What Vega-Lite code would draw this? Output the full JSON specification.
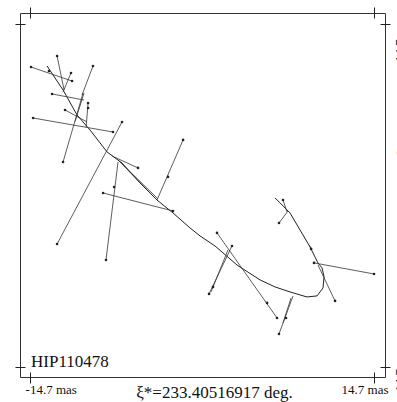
{
  "$schema": "https://vega.github.io/schema/vega-lite/v6.json",
  "width": 365,
  "height": 364,
  "autosize": {"type": "none"},
  "padding": {"left": 20, "top": 13, "right": 12, "bottom": 25},
  "background": "white",
  "config": {"view": {"stroke": "#333", "strokeWidth": 1}},
  "datasets": {
    "curve": [
      {"i": 1, "x": -13.25, "y": 11.10},
      {"i": 2, "x": -11.88, "y": 9.04},
      {"i": 3, "x": -10.68, "y": 6.89},
      {"i": 4, "x": -9.57, "y": 5.61},
      {"i": 5, "x": -8.12, "y": 3.73},
      {"i": 6, "x": -6.84, "y": 2.78},
      {"i": 7, "x": -5.30, "y": 1.07},
      {"i": 8, "x": -3.85, "y": -0.39},
      {"i": 9, "x": -2.48, "y": -1.50},
      {"i": 10, "x": -1.03, "y": -2.78},
      {"i": 11, "x": -0.17, "y": -3.47},
      {"i": 12, "x": 1.11, "y": -4.33},
      {"i": 13, "x": 2.99, "y": -5.96},
      {"i": 14, "x": 4.96, "y": -7.24},
      {"i": 15, "x": 6.24, "y": -7.84},
      {"i": 16, "x": 7.52, "y": -8.27},
      {"i": 17, "x": 8.97, "y": -8.70},
      {"i": 18, "x": 9.83, "y": -8.61},
      {"i": 19, "x": 10.34, "y": -7.93},
      {"i": 20, "x": 10.43, "y": -6.98},
      {"i": 21, "x": 10.26, "y": -6.21},
      {"i": 22, "x": 9.91, "y": -5.78},
      {"i": 23, "x": 9.23, "y": -4.41},
      {"i": 24, "x": 8.38, "y": -2.96},
      {"i": 25, "x": 7.52, "y": -1.50},
      {"i": 26, "x": 6.67, "y": -0.64},
      {"i": 27, "x": 6.24, "y": -0.21}
    ],
    "segs": [
      {"x": -14.62, "y": 11.01, "x2": -11.11, "y2": 9.81},
      {"x": -12.39, "y": 11.95, "x2": -11.79, "y2": 9.04},
      {"x": -11.20, "y": 10.50, "x2": -11.88, "y2": 8.87},
      {"x": -9.32, "y": 11.10, "x2": -10.26, "y2": 8.61},
      {"x": -12.82, "y": 8.70, "x2": -10.09, "y2": 8.18},
      {"x": -11.71, "y": 7.33, "x2": -9.83, "y2": 6.30},
      {"x": -9.74, "y": 7.93, "x2": -9.91, "y2": 5.87},
      {"x": -14.44, "y": 6.64, "x2": -7.61, "y2": 5.44},
      {"x": -11.88, "y": 2.87, "x2": -10.17, "y2": 8.78},
      {"x": -10.85, "y": 6.34, "x2": -10.09, "y2": 8.78},
      {"x": -6.84, "y": 6.30, "x2": -12.39, "y2": -4.16},
      {"x": -1.62, "y": 4.76, "x2": -3.85, "y2": -0.39},
      {"x": -7.69, "y": 3.38, "x2": -5.47, "y2": 2.36},
      {"x": -7.01, "y": 2.87, "x2": -3.85, "y2": -0.39},
      {"x": -7.18, "y": 3.04, "x2": -3.76, "y2": -0.30},
      {"x": -7.18, "y": 2.87, "x2": -8.21, "y2": -5.53},
      {"x": -8.46, "y": 0.21, "x2": -2.48, "y2": -1.33},
      {"x": 1.28, "y": -3.21, "x2": 6.41, "y2": -10.50},
      {"x": 2.56, "y": -4.33, "x2": 0.60, "y2": -8.44},
      {"x": 2.22, "y": -4.67, "x2": 0.77, "y2": -8.27},
      {"x": 7.78, "y": -8.61, "x2": 6.58, "y2": -11.87},
      {"x": 7.61, "y": -8.78, "x2": 6.92, "y2": -10.93},
      {"x": 6.58, "y": -2.36, "x2": 7.35, "y2": -1.33},
      {"x": 6.92, "y": -0.39, "x2": 7.26, "y2": -1.41},
      {"x": 9.15, "y": -4.24, "x2": 9.40, "y2": -4.67},
      {"x": 9.57, "y": -5.78, "x2": 14.70, "y2": -6.73},
      {"x": 9.91, "y": -5.96, "x2": 11.37, "y2": -9.04}
    ],
    "dots": [
      {"x": -14.62, "y": 11.01}, {"x": -11.11, "y": 9.81}, {"x": -12.39, "y": 11.95},
      {"x": -11.20, "y": 10.50}, {"x": -9.32, "y": 11.10}, {"x": -12.82, "y": 8.70},
      {"x": -11.71, "y": 7.33}, {"x": -9.74, "y": 7.93}, {"x": -14.44, "y": 6.64},
      {"x": -7.61, "y": 5.44}, {"x": -11.88, "y": 2.87}, {"x": -6.84, "y": 6.30},
      {"x": -12.39, "y": -4.16}, {"x": -1.62, "y": 4.76}, {"x": -2.91, "y": 1.59},
      {"x": -5.47, "y": 2.36}, {"x": -8.21, "y": -5.53}, {"x": -7.52, "y": 0.73},
      {"x": -8.46, "y": 0.21}, {"x": -2.48, "y": -1.33}, {"x": 1.28, "y": -3.21},
      {"x": 6.41, "y": -10.50}, {"x": 5.56, "y": -9.21}, {"x": 2.56, "y": -4.33},
      {"x": 0.60, "y": -8.44}, {"x": 0.94, "y": -7.84}, {"x": 6.58, "y": -11.87},
      {"x": 7.18, "y": -10.50}, {"x": 6.92, "y": -0.39}, {"x": 6.58, "y": -2.36},
      {"x": 9.32, "y": -4.58}, {"x": 9.57, "y": -5.78}, {"x": 14.70, "y": -6.73},
      {"x": 11.37, "y": -9.04}, {"x": -13.08, "y": 10.67}, {"x": -9.74, "y": 7.50}
    ]
  },
  "layer": [
    {
      "data": {"name": "curve"},
      "mark": {"type": "line", "color": "#222", "strokeWidth": 1},
      "encoding": {
        "x": {
          "field": "x", "type": "quantitative",
          "scale": {"domain": [-15.56, 15.64], "nice": false, "zero": false},
          "axis": {
            "orient": "bottom", "values": [-14.7, 14.7], "grid": false, "domain": false,
            "offset": -5, "tickSize": 11, "tickColor": "#222", "tickWidth": 1,
            "labelExpr": "datum.value < 0 ? '-14.7 mas' : '14.7 mas'",
            "labelFont": "Liberation Serif", "labelFontSize": 13, "labelColor": "#111",
            "labelBaseline": "alphabetic", "labelPadding": 10,
            "labelAlign": {"condition": {"test": "datum.value < 0", "value": "left"}, "value": "right"},
            "labelOffset": {"condition": {"test": "datum.value < 0", "value": -5}, "value": 14},
            "labelOverlap": false,
            "title": "ξ*=233.40516917 deg.",
            "titleFont": "Liberation Serif", "titleFontSize": 17, "titleFontWeight": "normal",
            "titleColor": "#111", "titleX": 194, "titleY": 25, "titleBaseline": "alphabetic",
            "titleAlign": "center", "titleAnchor": null
          }
        },
        "y": {
          "field": "y", "type": "quantitative",
          "scale": {"domain": [-15.56, 15.64], "nice": false, "zero": false},
          "axis": {
            "orient": "left", "values": [-14.7, 14.7], "grid": false, "domain": false,
            "offset": -5, "tickSize": 10, "tickColor": "#222", "tickWidth": 1,
            "labels": false, "title": null
          }
        },
        "order": {"field": "i", "type": "quantitative"}
      }
    },
    {
      "data": {"name": "segs"},
      "mark": {"type": "rule", "color": "#333", "strokeWidth": 0.8},
      "encoding": {
        "x": {
          "field": "x", "type": "quantitative",
          "axis": {
            "orient": "top", "values": [-14.7, 14.7], "grid": false, "domain": false,
            "offset": -5, "tickSize": 11, "tickColor": "#222", "tickWidth": 1,
            "labels": false, "title": null
          }
        },
        "y": {
          "field": "y", "type": "quantitative",
          "axis": {
            "orient": "right", "values": [-14.7, 14.7], "grid": false, "domain": false,
            "offset": -5, "tickSize": 10, "tickColor": "#222", "tickWidth": 1,
            "labelExpr": "datum.value < 0 ? '-14.7 mas' : '14.7 mas'",
            "labelFont": "Liberation Serif", "labelFontSize": 13, "labelColor": "#111",
            "labelAngle": 270, "labelAlign": "center", "labelBaseline": "top",
            "labelPadding": 3,
            "labelOffset": {"condition": {"test": "datum.value < 0", "value": 3}, "value": 14},
            "labelOverlap": false,
            "title": "η=+15.84727418 deg.",
            "titleFont": "Liberation Serif", "titleFontSize": 17, "titleFontWeight": "normal",
            "titleColor": "#111", "titleAngle": 270, "titleBaseline": "top",
            "titleAlign": "center", "titleX": 15, "titleY": 192, "titleAnchor": null
          }
        },
        "x2": {"field": "x2"},
        "y2": {"field": "y2"}
      }
    },
    {
      "data": {"name": "dots"},
      "mark": {"type": "point", "filled": true, "size": 7, "color": "#222", "opacity": 1},
      "encoding": {
        "x": {"field": "x", "type": "quantitative", "axis": null},
        "y": {"field": "y", "type": "quantitative", "axis": null}
      }
    },
    {
      "data": {"values": [{}]},
      "mark": {"type": "text", "text": "HIP110478", "font": "Liberation Serif", "fontSize": 17, "align": "left", "baseline": "alphabetic", "color": "#111"},
      "encoding": {
        "x": {"datum": -14.62, "type": "quantitative", "axis": null},
        "y": {"datum": -14.7, "type": "quantitative", "axis": null}
      }
    }
  ],
  "resolve": {"axis": {"x": "independent", "y": "independent"}}
}
